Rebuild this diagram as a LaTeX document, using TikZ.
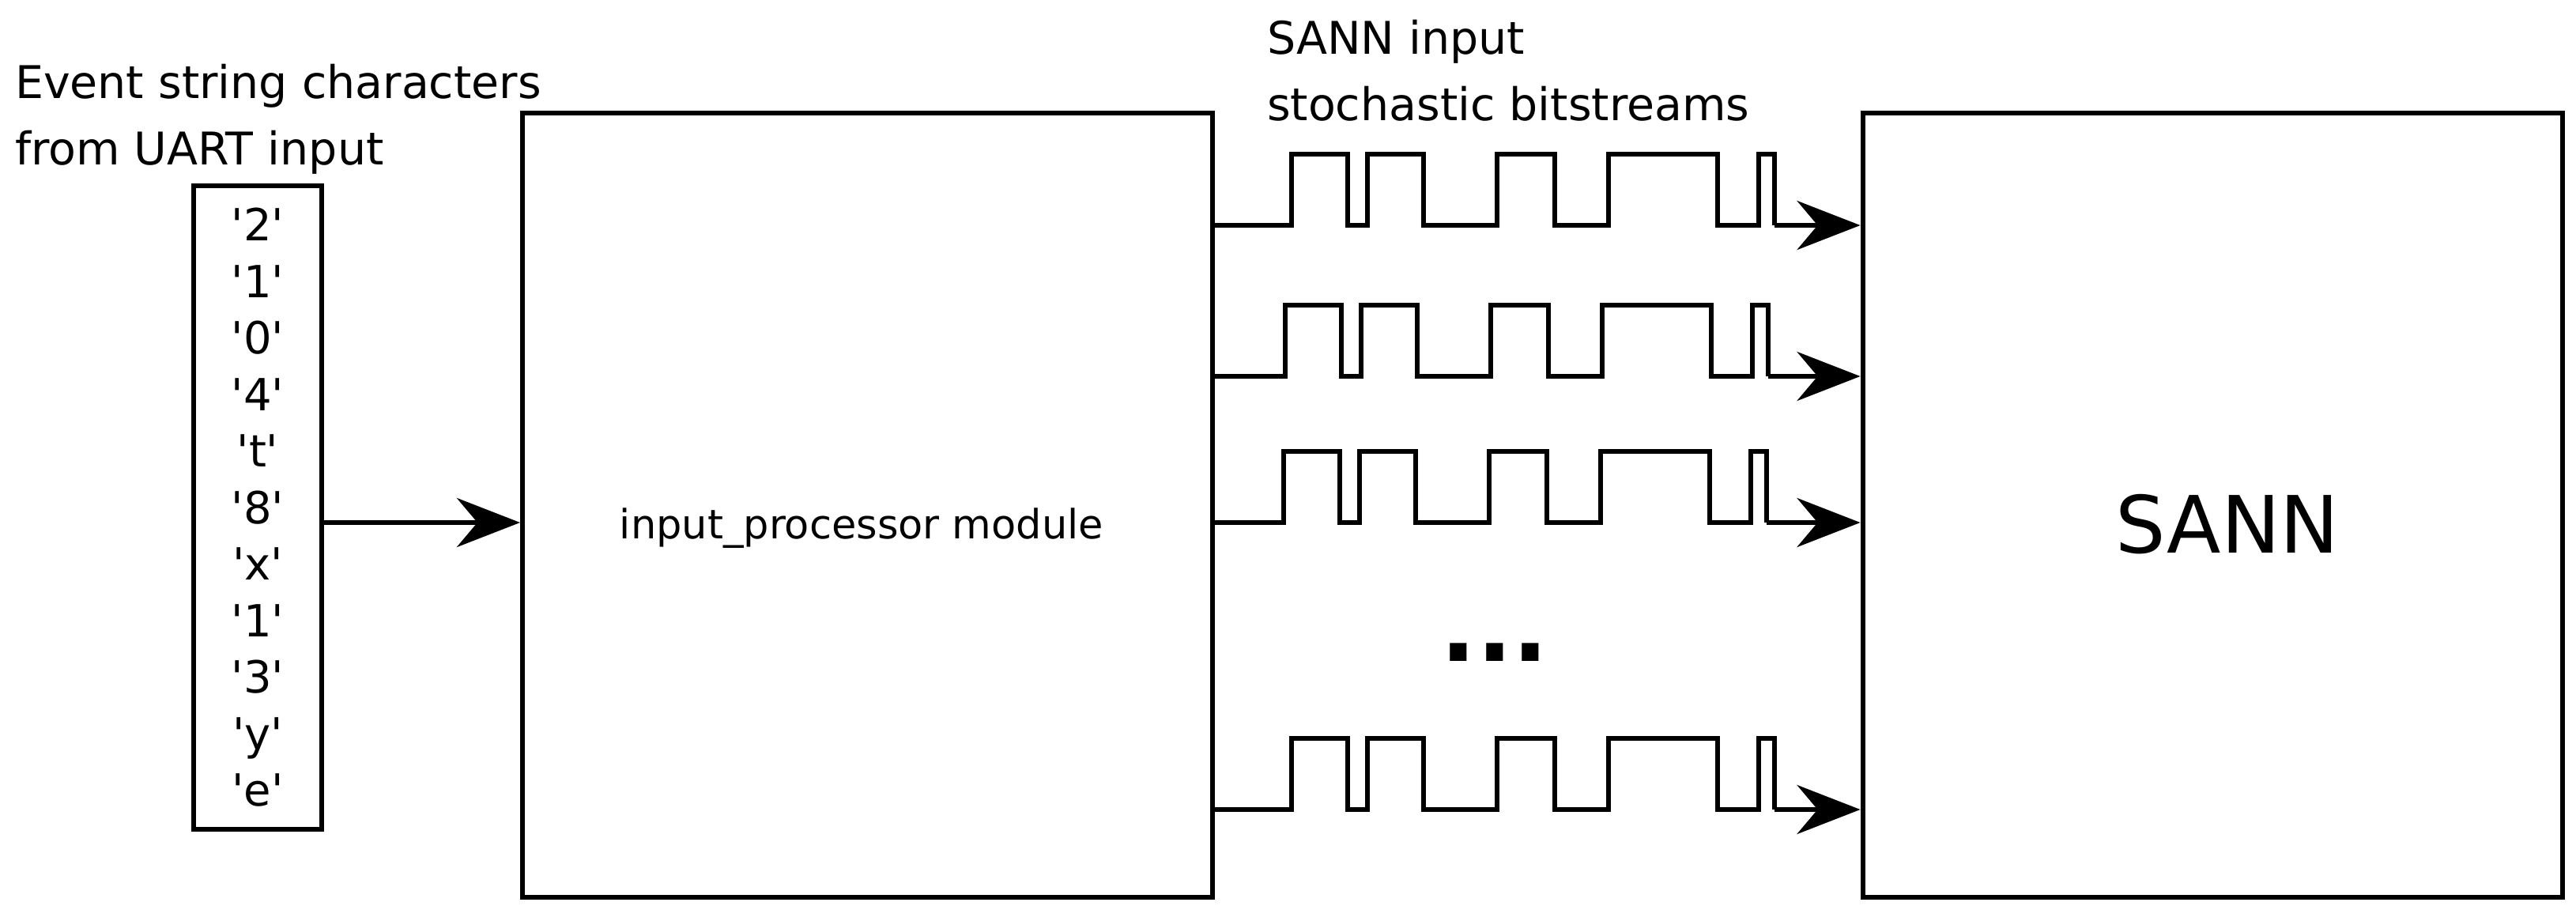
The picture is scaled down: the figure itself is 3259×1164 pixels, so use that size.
\documentclass[tikz,border=0pt]{standalone}
\usepackage{fontspec}
\setmainfont{DejaVu Sans}
\usetikzlibrary{arrows.meta}
\newcommand{\q}[1]{\textquotesingle#1\textquotesingle}
\begin{document}
\begin{tikzpicture}[x=1pt,y=-1pt,line width=6pt,
  box/.style={draw,line width=6pt,inner sep=0pt},
  arr/.style={-{Stealth[length=80pt,width=62pt,inset=26pt]}},
  lbl/.style={font=\fontsize{57}{84}\selectfont,align=left,anchor=north west,inner sep=0pt}]
\useasboundingbox (0,0) rectangle (3259,1164);
\node[box,minimum width=162pt,minimum height=814pt] (chars) at (326,642) {};
\node[font=\fontsize{56}{71.5}\selectfont,align=center,inner sep=0pt] (list) at (326,642)
 {\q{2}\\\q{1}\\\q{0}\\\q{4}\\\q{t}\\\q{8}\\\q{x}\\\q{1}\\\q{3}\\\q{y}\\\q{e}};
\node[box,minimum width=873pt,minimum height=992pt] (ip) at (1097.5,639) {};
\node[font=\fontsize{51}{60}\selectfont] (iplbl) at (1090,668) {input\_processor module};
\node[box,minimum width=885pt,minimum height=992pt] (sann) at (2799,639) {};
\node[font=\fontsize{100}{120}\selectfont] (sannlbl) at (2818,663) {SANN};
\node[lbl] (t1) at (16,78) {Event string characters\\from UART input};
\node[lbl] (t2) at (1600,22) {SANN input\\stochastic bitstreams};
\coordinate (a) at (chars.east |- 0,661);
\draw[arr] (a) -- (ip.west |- a);
\foreach \y/\d [count=\i] in {285/0,476/-8,661/-10,1024/0}{
  \coordinate (s\i) at (ip.east |- 0,\y);
  \coordinate (e\i) at (sann.west |- 0,\y);
  \draw[line join=miter] (s\i) -- ++(97+\d,0)
    -- ++(0,-90) -- ++(71,0) -- ++(0,90) -- ++(25,0) -- ++(0,-90) -- ++(71,0) -- ++(0,90)
    -- ++(93,0) -- ++(0,-90) -- ++(73,0) -- ++(0,90) -- ++(68,0) -- ++(0,-90) -- ++(138,0) -- ++(0,90)
    -- ++(52,0) -- ++(0,-90) -- ++(20,0) -- ++(0,90) coordinate (w\i);
  \draw[arr] (w\i) -- (e\i);
}
\node[font=\fontsize{120}{120}\selectfont\bfseries] (dots) at (1891,825) {...};
\end{tikzpicture}
\end{document}
